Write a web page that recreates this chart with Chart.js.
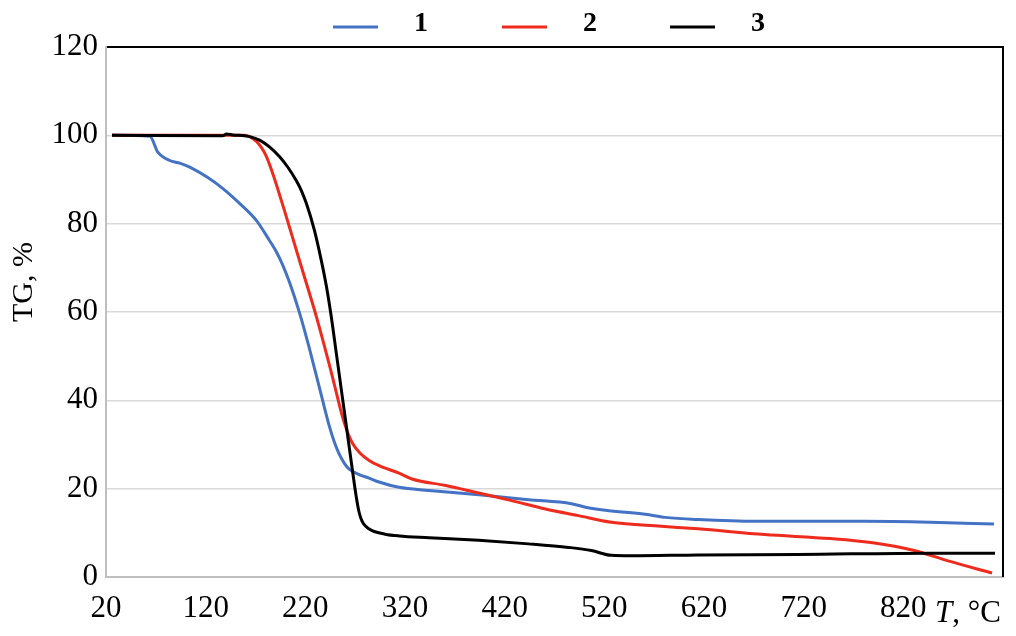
<!DOCTYPE html>
<html>
<head>
<meta charset="utf-8">
<script src="https://cdn.jsdelivr.net/npm/chart.js@4/dist/chart.umd.min.js"></script>
<style>
  html, body { margin: 0; padding: 0; background: #fff; }
  #wrap { width: 1016px; height: 636px; position: relative; }
</style>
</head>
<body>
<div id="wrap"><canvas id="tg"></canvas></div>
<script>
// Temperature (°C) and mass (%)
const temp1 = [26, 64, 72, 84, 94, 104, 121, 137, 154, 171, 184, 191, 197, 203, 209, 214, 219, 224, 229, 234, 239, 244, 249, 254, 259, 264, 274, 284, 294, 314, 344, 394, 444, 487, 501, 521, 561, 581, 614, 674, 781, 847, 911];
const tg1   = [100, 99.8, 96.2, 94.3, 93.7, 92.8, 90.6, 88.0, 84.6, 80.7, 76.2, 73.6, 70.8, 67.4, 63.5, 59.9, 56.0, 51.8, 47.4, 43.0, 38.5, 34.2, 30.6, 27.8, 25.8, 24.4, 23.2, 22.4, 21.5, 20.3, 19.6, 18.6, 17.5, 16.6, 15.8, 15.1, 14.2, 13.5, 13.0, 12.6, 12.6, 12.4, 12.0];

const temp2 = [26, 100, 157, 164, 171, 176, 181, 186, 191, 199, 207, 217, 231, 247, 257, 262, 267, 275, 284, 294, 314, 327, 361, 394, 427, 461, 494, 527, 577, 614, 681, 747, 791, 831, 864, 909];
const tg2   = [100, 100, 100, 99.7, 98.6, 97.2, 95.2, 92.2, 88.8, 83.0, 77.0, 69.5, 59.0, 45.5, 36.5, 33.0, 30.4, 28.0, 26.4, 25.2, 23.5, 22.2, 20.7, 19.0, 17.3, 15.4, 13.9, 12.4, 11.5, 10.9, 9.6, 8.7, 7.7, 6.0, 3.7, 0.9];

const temp3 = [26, 137, 141, 147, 159, 166, 174, 184, 194, 203, 211, 216, 221, 229, 236, 241, 246, 251, 256, 261, 266, 271, 274, 277, 281, 287, 300, 314, 344, 394, 444, 484, 507, 527, 547, 614, 714, 847, 912];
const tg3   = [100, 99.9, 100.3, 100.1, 99.9, 99.6, 98.9, 97.4, 95.2, 92.6, 89.7, 87.5, 84.6, 78.6, 71.7, 66.0, 59.0, 50.8, 42.6, 34.4, 26.2, 18.3, 14.6, 12.6, 11.4, 10.5, 9.7, 9.3, 8.9, 8.3, 7.5, 6.7, 6.0, 4.9, 4.8, 5.0, 5.1, 5.4, 5.4];

const seriesNames = ['1', '2', '3'];
const seriesColors = ['#4472c4', '#ee2b1d', '#000000'];

const xTicks = [20, 120, 220, 320, 420, 520, 620, 720, 820, 920];
const yTicks = [0, 20, 40, 60, 80, 100, 120];

const serif = '"Liberation Serif", "Times New Roman", serif';

function points(xs, ys) {
    return xs.map((x, i) => ({ x: x, y: ys[i] }));
}

// Legend drawn by hand so the gaps match the original
const customLegend = {
    id: 'customLegend',
    afterDraw(chart) {
        const ctx = chart.ctx;
        const starts = [333, 502, 670];
        ctx.save();
        ctx.font = 'bold 28px ' + serif;
        ctx.textBaseline = 'middle';
        ctx.textAlign = 'left';
        seriesNames.forEach((name, i) => {
            ctx.strokeStyle = seriesColors[i];
            ctx.lineWidth = 3;
            ctx.beginPath();
            ctx.moveTo(starts[i], 27);
            ctx.lineTo(starts[i] + 45, 27);
            ctx.stroke();
            ctx.fillStyle = '#000';
            ctx.fillText(name, starts[i] + 81, 24);
        });
        ctx.restore();
    }
};

// Right frame line, y title and the "T, °C" unit label on the x axis
const frameAndUnit = {
    id: 'frameAndUnit',
    afterDraw(chart) {
        const ctx = chart.ctx;
        const a = chart.chartArea;
        ctx.save();
        ctx.strokeStyle = '#000';
        ctx.lineWidth = 2;
        ctx.beginPath();
        ctx.moveTo(a.right, a.top - 1);
        ctx.lineTo(a.right, a.bottom);
        ctx.stroke();

        ctx.fillStyle = '#000';
        ctx.textBaseline = 'middle';
        ctx.textAlign = 'left';
        const y = a.bottom + 37;
        ctx.font = 'italic 31px ' + serif;
        ctx.fillText('T', 935, y);
        const w = ctx.measureText('T').width;
        ctx.font = '31px ' + serif;
        ctx.fillText(', °C', 935 + w, y);

        ctx.translate(24, 282);
        ctx.rotate(-Math.PI / 2);
        ctx.textAlign = 'center';
        ctx.font = '30px ' + serif;
        ctx.fillText('TG, %', 0, 0);
        ctx.restore();
    }
};

const ctx = document.getElementById('tg').getContext('2d');
new Chart(ctx, {
    type: 'line',
    data: {
        datasets: [
            { label: seriesNames[0], data: points(temp1, tg1), borderColor: seriesColors[0], order: 3 },
            { label: seriesNames[1], data: points(temp2, tg2), borderColor: seriesColors[1], order: 2 },
            { label: seriesNames[2], data: points(temp3, tg3), borderColor: seriesColors[2], order: 1 }
        ]
    },
    options: {
        responsive: true,
        maintainAspectRatio: false,
        animation: false,
        datasets: {
            line: {
                borderWidth: 3,
                pointRadius: 0,
                fill: false,
                cubicInterpolationMode: 'monotone'
            }
        },
        layout: { padding: { top: 47, right: 10, left: 0, bottom: 0 } },
        plugins: {
            legend: { display: false },
            tooltip: { enabled: false }
        },
        scales: {
            x: {
                type: 'linear',
                min: 20,
                max: 920,
                afterBuildTicks: s => { s.ticks = xTicks.map(v => ({ value: v })); },
                afterFit: s => { s.height = 59; },
                ticks: {
                    color: '#000',
                    font: { family: serif, size: 31 },
                    padding: 13,
                    maxRotation: 0,
                    callback: v => (v === 920 ? '' : String(v))
                },
                grid: { display: false, drawTicks: false },
                border: { color: '#bfbfbf', width: 2 }
            },
            y: {
                min: 0,
                max: 120,
                afterBuildTicks: s => { s.ticks = yTicks.map(v => ({ value: v })); },
                afterFit: s => { s.width = 106; },
                ticks: {
                    color: '#000',
                    font: { family: serif, size: 31 },
                    padding: 8
                },
                grid: {
                    drawTicks: false,
                    color: c => (c.tick && c.tick.value === 120 ? '#000' : '#d9d9d9'),
                    lineWidth: c => (c.tick && c.tick.value === 120 ? 2 : 1.5)
                },
                border: { color: '#bfbfbf', width: 2 }
            }
        }
    },
    plugins: [customLegend, frameAndUnit]
});
</script>
</body>
</html>
